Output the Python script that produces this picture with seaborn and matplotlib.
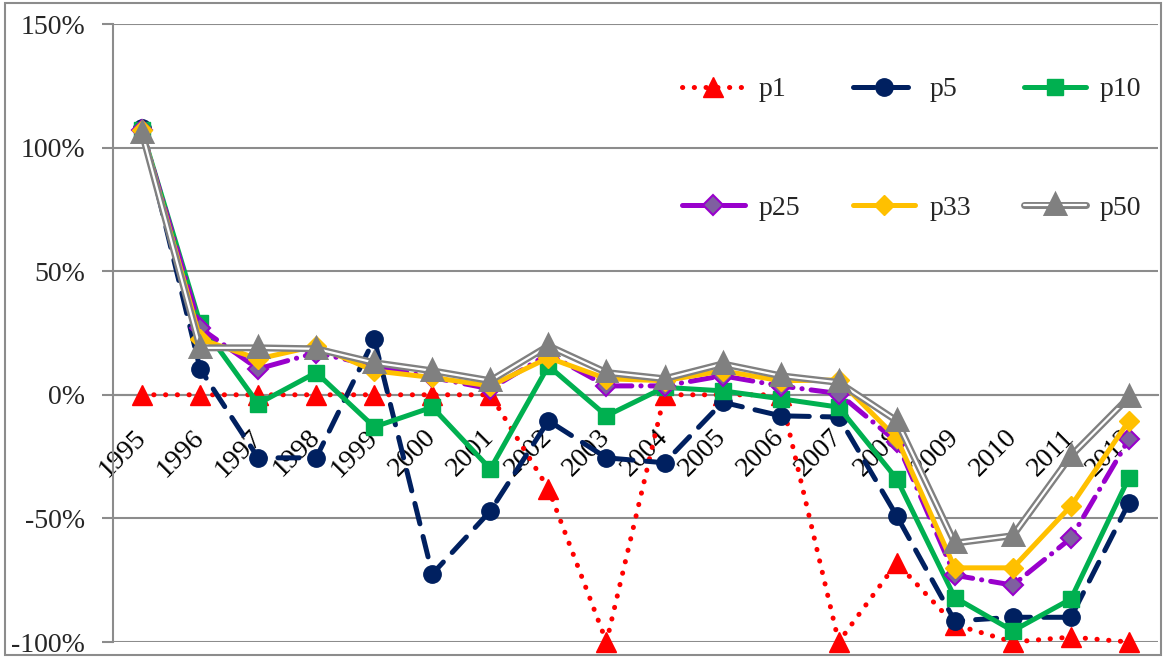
import numpy as np
import pandas as pd
import matplotlib
matplotlib.use("Agg")
import matplotlib.pyplot as plt
import matplotlib.patheffects as pe
from matplotlib.ticker import FixedLocator, FuncFormatter
from matplotlib.patches import Rectangle
import seaborn as sns

years = [str(y) for y in range(1995, 2013)]
p1 = [0, 0, 0, 0, 0, 0, 0, -38, -100, 0, 0, 0, -100, -68, -93, -100, -98, -100]
p5 = [108, 10.5, -25.5, -25.5, 22.6, -72.5, -47, -10.5, -25.5, -27.5, -3, -8.5, -9, -49, -91.5, -90, -90, -43.7]
p10 = [107, 29, -3.6, 9, -13, -5, -30, 11.7, -8.5, 3, 1.6, -1.6, -5, -34, -82, -95.5, -82.6, -33.5]
p25 = [107, 27, 10.5, 17, 11.7, 7, 2.4, 16.5, 3.6, 3.6, 7.7, 3.6, 0.5, -19, -73, -77, -58, -18]
p33 = [107, 22.6, 14.5, 19.8, 9.7, 7, 3.6, 15, 6.5, 5.7, 9.7, 5.7, 6, -17.5, -70, -70, -45, -10.5]
p50 = [106, 19, 19, 18.6, 13, 9.7, 5.7, 19.8, 9, 6.5, 12.5, 7.7, 5, -10.5, -60, -57, -24.7, -1]
y_ticks = [-100, -50, 0, 50, 100, 150]

series = {"p1": p1, "p5": p5, "p10": p10, "p25": p25, "p33": p33, "p50": p50}

sns.set_theme(style="white")
plt.rcParams["font.family"] = ["Liberation Serif", "DejaVu Serif"]

W, H = 1166, 658
fig = plt.figure(figsize=(W / 100, H / 100), dpi=100)
ax = fig.add_axes([113 / W, (H - 642) / H, (1158 - 113) / W, (642 - 24) / H])

grid_c = "#8c8c8c"
x = np.arange(len(years))

styles = {
    "p1": dict(color="#FF0000", marker="^", ms=14.5, mfc="#FF0000", mec="#FF0000", lw=3.6),
    "p5": dict(color="#002060", marker="o", ms=12.5, mfc="#002060", mec="#002060", lw=3.6),
    "p10": dict(color="#00B050", marker="s", ms=12, mfc="#00B050", mec="#00B050", lw=3.6),
    "p25": dict(color="#9900CC", marker="D", ms=10, mfc="#7F5FA0", mec="#9900CC", mew=1.5, lw=3.6),
    "p33": dict(color="#FFC000", marker="D", ms=10.5, mfc="#FFC000", mec="#FFC000", lw=3.6),
    "p50": dict(color="white", marker="^", ms=10, mfc="#808080", mec="#808080", lw=1.6),
}

lines = {}
for name, vals in series.items():
    df = pd.DataFrame({"x": x, "y": vals})
    st = styles[name]
    sns.lineplot(data=df, x="x", y="y", ax=ax, color=st["color"], marker=st["marker"],
                 markersize=st["ms"], markerfacecolor=st["mfc"], markeredgecolor=st["mec"],
                 markeredgewidth=st.get("mew", 1.0), linewidth=st["lw"], label=name,
                 legend=False, zorder=3)
    lines[name] = ax.get_lines()[-1]
    lines[name].set_clip_on(False)

lines["p1"].set_dashes((0.05, 2.3))
lines["p1"].set_dash_capstyle("round")
lines["p5"].set_dashes((4.2, 2.6))
lines["p5"].set_dash_capstyle("round")
lines["p25"].set_dashes((4.5, 1.8, 0.05, 1.8))
lines["p25"].set_dash_capstyle("round")
lines["p50"].set_path_effects([pe.Stroke(linewidth=5, foreground="#808080"), pe.Normal()])

ax.set_xlim(-0.5, len(years) - 0.5)
ax.set_ylim(-100, 150)
ax.set_xlabel("")
ax.set_ylabel("")

ax.yaxis.set_major_locator(FixedLocator(y_ticks))
ax.yaxis.set_major_formatter(FuncFormatter(lambda v, p: f"{int(v)}%"))
ax.grid(axis="y", color=grid_c, linewidth=1.5)
ax.set_axisbelow(True)

ax.set_xticks(x)
ax.set_xticklabels(years)
ax.set_xticks(np.arange(len(years) + 1) - 0.5, minor=True)
ax.tick_params(axis="x", which="major", length=0, pad=28, labelsize=20, colors="black", labelrotation=45)
ax.tick_params(axis="x", which="minor", length=5, width=1.5, color=grid_c, direction="out")
ax.tick_params(axis="y", which="major", length=8, width=1.5, color=grid_c, pad=12, labelsize=20, left=True)

ax.spines["bottom"].set_position(("data", 0))
ax.spines["bottom"].set_color(grid_c)
ax.spines["bottom"].set_linewidth(1.5)
ax.spines["left"].set_color(grid_c)
ax.spines["left"].set_linewidth(1.5)
ax.spines["top"].set_visible(False)
ax.spines["right"].set_visible(False)

order = ["p1", "p25", "p5", "p33", "p10", "p50"]
leg = ax.legend([lines[n] for n in order], order, ncol=3, frameon=False,
                loc="upper left", bbox_to_anchor=((682 - 113) / (1158 - 113), (642 - 77) / (642 - 24)),
                fontsize=20, handlelength=2.25, handletextpad=0.5, columnspacing=1.9,
                labelspacing=3.35, borderpad=0, borderaxespad=0)

fig.patches.append(Rectangle((5 / W, 3 / H), (1161 - 5) / W, (655 - 3) / H, transform=fig.transFigure,
                             fill=False, edgecolor="#8c8c8c", linewidth=1.5))

fig.canvas.draw()
for lab in ax.get_xticklabels():
    lab.set_rotation(45)
    lab.set_ha("right")
    lab.set_va("center")
    lab.set_rotation_mode("anchor")

fig.savefig("out.png", dpi=100)
